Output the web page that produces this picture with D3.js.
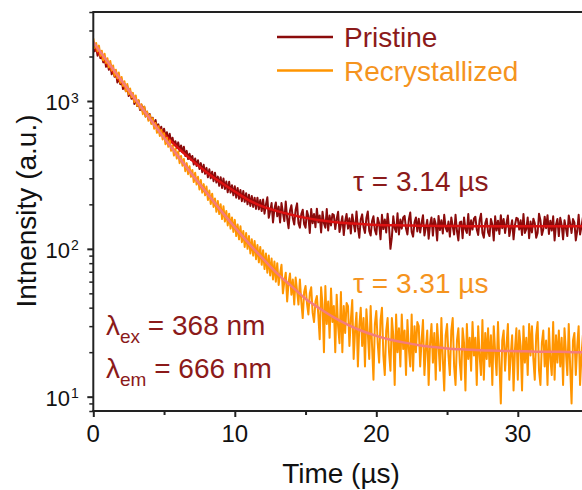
<!DOCTYPE html>
<html><head><meta charset="utf-8">
<script src="https://cdn.jsdelivr.net/npm/d3@7"></script>
<style>body{margin:0;background:#fff}svg{display:block;font-family:"Liberation Sans",Arial,sans-serif}</style>
</head><body><svg id="c" width="582" height="490"></svg>
<script>
const time = [
0,0.1,0.2,0.3,0.4,0.5,0.6,0.7,0.8,0.9,
1,1.1,1.2,1.3,1.4,1.5,1.6,1.7,1.8,1.9,
2,2.1,2.2,2.3,2.4,2.5,2.6,2.7,2.8,2.9,
3,3.1,3.2,3.3,3.4,3.5,3.6,3.7,3.8,3.9,
4,4.1,4.2,4.3,4.4,4.5,4.6,4.7,4.8,4.9,
5,5.1,5.2,5.3,5.4,5.5,5.6,5.7,5.8,5.9,
6,6.1,6.2,6.3,6.4,6.5,6.6,6.7,6.8,6.9,
7,7.1,7.2,7.3,7.4,7.5,7.6,7.7,7.8,7.9,
8,8.1,8.2,8.3,8.4,8.5,8.6,8.7,8.8,8.9,
9,9.1,9.2,9.3,9.4,9.5,9.6,9.7,9.8,9.9,
10,10.1,10.2,10.3,10.4,10.5,10.6,10.7,10.8,10.9,
11,11.1,11.2,11.3,11.4,11.5,11.6,11.7,11.8,11.9,
12,12.1,12.2,12.3,12.4,12.5,12.6,12.7,12.8,12.9,
13,13.1,13.2,13.3,13.4,13.5,13.6,13.7,13.8,13.9,
14,14.1,14.2,14.3,14.4,14.5,14.6,14.7,14.8,14.9,
15,15.1,15.2,15.3,15.4,15.5,15.6,15.7,15.8,15.9,
16,16.1,16.2,16.3,16.4,16.5,16.6,16.7,16.8,16.9,
17,17.1,17.2,17.3,17.4,17.5,17.6,17.7,17.8,17.9,
18,18.1,18.2,18.3,18.4,18.5,18.6,18.7,18.8,18.9,
19,19.1,19.2,19.3,19.4,19.5,19.6,19.7,19.8,19.9,
20,20.1,20.2,20.3,20.4,20.5,20.6,20.7,20.8,20.9,
21,21.1,21.2,21.3,21.4,21.5,21.6,21.7,21.8,21.9,
22,22.1,22.2,22.3,22.4,22.5,22.6,22.7,22.8,22.9,
23,23.1,23.2,23.3,23.4,23.5,23.6,23.7,23.8,23.9,
24,24.1,24.2,24.3,24.4,24.5,24.6,24.7,24.8,24.9,
25,25.1,25.2,25.3,25.4,25.5,25.6,25.7,25.8,25.9,
26,26.1,26.2,26.3,26.4,26.5,26.6,26.7,26.8,26.9,
27,27.1,27.2,27.3,27.4,27.5,27.6,27.7,27.8,27.9,
28,28.1,28.2,28.3,28.4,28.5,28.6,28.7,28.8,28.9,
29,29.1,29.2,29.3,29.4,29.5,29.6,29.7,29.8,29.9,
30,30.1,30.2,30.3,30.4,30.5,30.6,30.7,30.8,30.9,
31,31.1,31.2,31.3,31.4,31.5,31.6,31.7,31.8,31.9,
32,32.1,32.2,32.3,32.4,32.5,32.6,32.7,32.8,32.9,
33,33.1,33.2,33.3,33.4,33.5,33.6,33.7,33.8,33.9,
34,34.1,34.2,34.3,34.4,34.5,34.6,34.7,34.8,34.9,
35];
const pristine = [
2490,2170,2330,2025,2240,1950,2055,1825,1975,1705,
1850,1625,1775,1515,1630,1460,1570,1335,1465,1300,
1400,1205,1310,1165,1265,1080,1160,1035,1120,955,
1050,925,1005,870,945,845,915,785,845,750,
815,715,770,670,745,655,695,605,670,585,
650,570,615,540,600,525,565,500,535,480,
525,460,500,450,490,425,460,405,440,400,
425,372,408,363,397,347,380,330,370,322,
353,305,345,300,332,287,327,281,308,267,
305,258,299,254,285,241,284,240,269,230,
265,222,258,218,250,210,246,208,238,200,
232,195,228,192,222,186,222,185,214,180,
216,173,200,223,162,180,204,151,186,206,
166,193,151,204,176,154,209,161,138,181,
197,161,146,184,203,149,139,172,184,147,
139,180,166,128,186,149,172,140,187,151,
168,129,178,149,139,186,133,168,144,172,
169,136,159,178,130,146,166,124,154,172,
137,161,127,171,149,131,179,139,119,158,
171,140,128,162,179,132,123,154,166,134,
125,162,149,116,170,136,158,129,173,141,
100,120,166,138,130,174,125,158,137,163,
167,137,125,158,176,130,121,151,163,131,
160,129,150,169,123,139,157,117,146,163,
123,160,147,114,167,134,156,127,170,139,
131,153,121,163,142,125,170,132,114,151,
153,118,163,136,128,172,124,156,135,160,
165,135,124,156,173,128,119,149,160,129,
122,159,146,114,166,133,155,126,169,138,
159,128,149,168,122,138,156,116,145,162,
160,135,156,124,172,128,136,163,118,153,
129,160,149,119,128,173,156,124,135,165,
138,169,126,155,133,166,114,146,159,122,
162,145,116,156,138,122,168,149,128,159,
151,114,132,170,125,142,163,121,153,131,
142];
const recryst = [
2650,2280,2470,2170,2370,2020,2190,1885,2085,1810,
1945,1690,1865,1610,1740,1480,1625,1425,1560,1330,
1455,1265,1360,1165,1305,1110,1215,1060,1135,985,
1090,930,1015,885,950,815,915,785,850,735,
805,700,765,650,710,610,675,580,640,550,
605,510,565,490,540,460,500,428,478,408,
455,380,425,365,405,335,380,320,362,307,
342,283,327,272,307,252,292,240,274,230,
264,214,248,201,236,192,219,178,211,172,
200,159,194,153,180,144,173,137,163,130,
157,122,146,116,142,111,132,103,128,100,
122,93,116,90,113,85,106,81,103,78,
98,73,93,69,90,66,86,62,82,60,
80,57,68,78,50,60,69,44,59,68,
49,62,42,64,52,42,62,44,34,51,
56,43,36,50,55,37,32,44,48,36,
24.5,55,42,20,56,31,44,25,54,32,
41,20,49,30,23,51,20,41,27,43,
41,22,33,45,18,28,37,16,30,40,
22,34,16,39,27,18,41,22,13,31,
38,23,17,33,40,19,14,28,34,20,
15,34,26,12,36,20,29,16,36,21,
28,14,33,21,16,36,15,30,20,32,
30,16,24,33,14,21,28,12,23,31,
17,27,13,31,22,15,34,18,11,26,
31,19,14,28,34,16,12,24,29,17,
13,29,23,11,31,18,25,15,32,19,
25,12,30,19,14,33,13,27,18,29,
16,26,12,30,20,14,32,17,9,24,
28,15,22,31,13,19,26,11,21,29,
13,28,22,11,30,17,25,14,31,19,
30,18,13,26,32,15,12,23,28,16,
24,12,29,18,14,32,13,26,17,28,
16,25,12,29,20,14,31,16,9,24,
27,14,22,30,12,19,26,11,21,28,
20];
const fitTime = [0,1,2,3,4,5,6,7,8,9,10,11,12,13,14,15,16,17,18,19,20,21,22,23,24,25,26,27,28,29,30,31,32,33,34,35];
const pristineFit = [2350,1760,1320,1000,770,600,480,395,330,282,244,213,193,180,170,162,156,152,149,147,145,144.5,144,143.5,143,142.7,142.5,142.3,142.2,142.1,142,142,142,142,142,142];
const recrystFit = [2500,1852,1373,1019,758,565,422,317,240,182,140,108.5,85.5,68,56,46,39.5,34.4,30.6,27.8,25.8,24.3,23.2,22.3,21.7,21.2,20.9,20.7,20.5,20.4,20.3,20.2,20.1,20.1,20,20];
const xTicks = [0,10,20,30];
const xMinor = [5,15,25,35];
const yTicks = [10,100,1000];
const yMinor = [8,9,20,30,40,50,60,70,80,90,200,300,400,500,600,700,800,900,2000,3000,4000];
const yExp = ["1","2","3"];
const seriesNames = ["Pristine","Recrystallized"];
const tauLabels = ["τ = 3.14 µs","τ = 3.31 µs"];

const svg = d3.select("#c");
const L=93.3, T=12, B=411;
const x = d3.scaleLinear().domain([0,35]).range([L, L+35*14.15]);
const y = d3.scaleLog().domain([8,4000]).range([B, T]);
const cData = ["#8b0b0b","#ff9500"], cFit = ["#dd1111","#f47c7c"], cText=["#8b1a1a","#f5941e"];
const FONT = "Liberation Sans, Arial, sans-serif";

svg.append("clipPath").attr("id","clip").append("rect").attr("x",L).attr("y",T).attr("width",600).attr("height",B-T);
const g = svg.append("g").attr("clip-path","url(#clip)");
const dl = d3.line().x((d,i)=>x(time[i])).y(d=>y(d));
const fl = d3.line().x((d,i)=>x(fitTime[i])).y(d=>y(d)).curve(d3.curveMonotoneX);
g.append("path").attr("d",dl(pristine)).attr("fill","none").attr("stroke",cData[0]).attr("stroke-width",2).attr("stroke-linejoin","round");
g.append("path").attr("d",fl(pristineFit)).attr("fill","none").attr("stroke",cFit[0]).attr("stroke-width",2.5);
g.append("path").attr("d",dl(recryst)).attr("fill","none").attr("stroke",cData[1]).attr("stroke-width",2).attr("stroke-linejoin","round");
g.append("path").attr("d",fl(recrystFit)).attr("fill","none").attr("stroke",cFit[1]).attr("stroke-width",2.5);

// frame
const ax = svg.append("g").attr("stroke","#222").attr("stroke-width",2);
ax.append("line").attr("x1",L).attr("x2",600).attr("y1",T).attr("y2",T);
ax.append("line").attr("x1",L).attr("x2",L).attr("y1",T-1).attr("y2",B+1);
ax.append("line").attr("x1",L-1).attr("x2",600).attr("y1",B).attr("y2",B);

// x axis
const xg = svg.append("g").attr("transform",`translate(0,${B})`).call(d3.axisBottom(x).tickValues(xTicks).tickSize(6).tickFormat(""));
xg.select(".domain").remove(); xg.selectAll("line").attr("stroke","#222").attr("stroke-width",2);
const xmg = svg.append("g").attr("transform",`translate(0,${B})`).call(d3.axisBottom(x).tickValues(xMinor).tickSize(4).tickFormat(""));
xmg.select(".domain").remove(); xmg.selectAll("line").attr("stroke","#222").attr("stroke-width",2);
xTicks.forEach(v=>{
  svg.append("text").attr("x",x(v)).attr("y",B+31).attr("text-anchor","middle").attr("font-size",24).attr("font-family",FONT).attr("fill","#111").text(v);
});

// y axis
const yg = svg.append("g").attr("transform",`translate(${L},0)`).call(d3.axisLeft(y).tickValues(yTicks).tickSize(6).tickFormat(""));
yg.select(".domain").remove(); yg.selectAll("line").attr("stroke","#222").attr("stroke-width",2);
const ymg = svg.append("g").attr("transform",`translate(${L},0)`).call(d3.axisLeft(y).tickValues(yMinor).tickSize(4).tickFormat(""));
ymg.select(".domain").remove(); ymg.selectAll("line").attr("stroke","#222").attr("stroke-width",1.5);
yTicks.forEach((v,i)=>{
  svg.append("text").attr("x",70).attr("y",y(v)+9).attr("text-anchor","end").attr("font-size",22).attr("font-family",FONT).attr("fill","#111").text("10");
  svg.append("text").attr("x",71).attr("y",y(v)+1.5).attr("font-size",14).attr("font-family",FONT).attr("fill","#111").text(yExp[i]);
});

svg.append("text").attr("x",341).attr("y",483).attr("text-anchor","middle").attr("font-size",28).attr("font-family",FONT).attr("fill","#111").text("Time (µs)");
svg.append("text").attr("transform","translate(36,211) rotate(-90)").attr("text-anchor","middle").attr("font-size",28).attr("font-family",FONT).attr("fill","#111").text("Intnensity (a.u.)");

// legend
seriesNames.forEach((n,i)=>{
  const yy = 37+i*33.5;
  svg.append("line").attr("x1",277).attr("x2",333).attr("y1",yy).attr("y2",yy).attr("stroke",cData[i]).attr("stroke-width",2.5);
  svg.append("text").attr("x",344).attr("y",yy+10).attr("font-size",28).attr("font-family",FONT).attr("fill",cText[i]).text(n);
});
svg.append("text").attr("x",353).attr("y",191).attr("font-size",28).attr("font-family",FONT).attr("fill",cText[0]).text(tauLabels[0]);
svg.append("text").attr("x",353).attr("y",293).attr("font-size",28).attr("font-family",FONT).attr("fill",cText[1]).text(tauLabels[1]);

const lam = [["ex","= 368 nm",335],["em","= 666 nm",378]];
lam.forEach(d=>{
  const t = svg.append("text").attr("x",106).attr("y",d[2]).attr("font-size",28).attr("font-family",FONT).attr("fill",cText[0]);
  t.append("tspan").text("λ");
  t.append("tspan").attr("font-size",19).attr("dy",8).text(d[0]);
  t.append("tspan").attr("dy",-8).text(" "+d[1]);
});
</script></body></html>
